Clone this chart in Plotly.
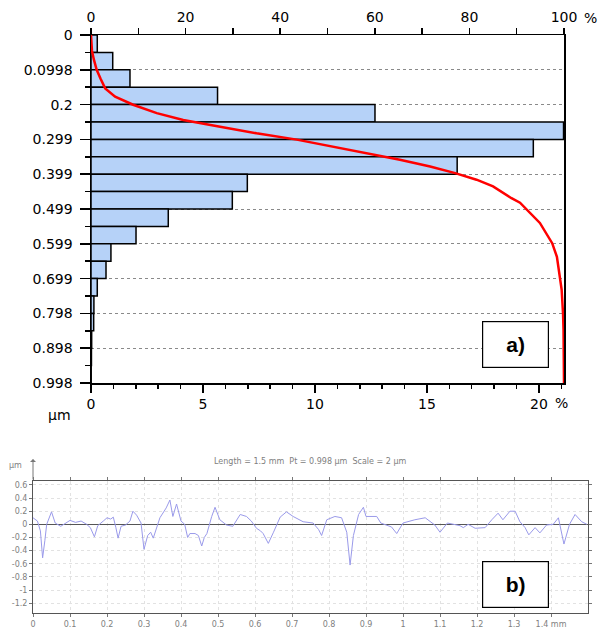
import plotly.graph_objects as go

W, H = 601, 628

# ---------------- data: a) bearing-ratio histogram ----------------
bin_top_um = [0.0, 0.0499, 0.0998, 0.1497, 0.1996, 0.2495, 0.2994, 0.3493, 0.3992, 0.4491,
              0.499, 0.5489, 0.5988, 0.6487, 0.6986, 0.7485, 0.7984, 0.8483, 0.8982, 0.9481]
bin_height_um = 0.0499
hist_pct = [0.28, 0.97, 1.74, 5.65, 12.68, 21.1, 19.75, 16.35, 6.98, 6.31,
            3.45, 2.01, 0.89, 0.67, 0.28, 0.13, 0.12, 0.03, 0.02, 0.01]

# cumulative (Abbott) curve: depth (µm) vs bearing ratio (%)
cum_depth = [0.000, 0.020, 0.045, 0.070, 0.100, 0.125, 0.153, 0.177, 0.200, 0.224,
             0.244, 0.263, 0.282, 0.300, 0.320, 0.339, 0.358, 0.377, 0.396, 0.415,
             0.434, 0.468, 0.481, 0.539, 0.597, 0.636, 0.693, 0.730, 0.800, 0.845, 0.998]
cum_pct = [0.0, 0.1, 0.2, 0.6, 1.2, 2.0, 3.0, 5.1, 8.9, 13.9,
           19.5, 27.3, 35.0, 43.5, 51.2, 58.3, 65.3, 71.7, 77.0, 81.5,
           85.0, 88.9, 90.7, 94.9, 97.5, 98.5, 99.2, 99.5, 99.8, 99.9, 100.0]

depth_tick_vals = [0, 0.0998, 0.1996, 0.2994, 0.3992, 0.499, 0.5988, 0.6986, 0.7984, 0.8982, 0.998]
depth_tick_text = ["0", "0.0998", "0.2", "0.299", "0.399", "0.499", "0.599", "0.699", "0.798", "0.898", "0.998"]
hist_tick_vals = [0, 5, 10, 15, 20]
hist_tick_text = ["0", "5", "10", "15", "20"]
cum_tick_vals = [0, 20, 40, 60, 80, 100]
cum_tick_text = ["0", "20", "40", "60", "80", "100"]

# ---------------- data: b) roughness profile ----------------
prof_x_mm = [0.000, 0.012, 0.020, 0.026, 0.032, 0.037, 0.050, 0.060, 0.075, 0.090,
             0.100, 0.115, 0.130, 0.145, 0.155, 0.166, 0.175, 0.190, 0.200, 0.210,
             0.217, 0.224, 0.230, 0.238, 0.250, 0.262, 0.270, 0.280, 0.292, 0.300,
             0.310, 0.318, 0.325, 0.343, 0.360, 0.370, 0.378, 0.388, 0.400, 0.410,
             0.418, 0.424, 0.438, 0.447, 0.456, 0.463, 0.470, 0.483, 0.492, 0.505,
             0.523, 0.540, 0.560, 0.577, 0.590, 0.604, 0.615, 0.622, 0.636, 0.650,
             0.668, 0.685, 0.703, 0.730, 0.757, 0.772, 0.780, 0.794, 0.816, 0.834,
             0.848, 0.857, 0.866, 0.880, 0.893, 0.900, 0.929, 0.940, 0.969, 0.983,
             1.000, 1.032, 1.060, 1.086, 1.100, 1.120, 1.140, 1.154, 1.163, 1.176,
             1.195, 1.222, 1.240, 1.257, 1.270, 1.289, 1.303, 1.316, 1.330, 1.340,
             1.357, 1.370, 1.388, 1.406, 1.420, 1.435, 1.450, 1.465, 1.483, 1.497]
prof_z_um = [0.10, 0.05, -0.10, -0.51, -0.25, 0.00, 0.19, 0.02, -0.03, 0.02,
             0.06, 0.03, 0.05, 0.00, -0.05, -0.19, -0.02, 0.05, 0.10, 0.08,
             0.11, -0.05, -0.21, -0.03, -0.01, 0.05, 0.20, 0.14, 0.02, -0.38,
             -0.17, -0.12, -0.21, 0.10, 0.25, 0.37, 0.12, 0.31, 0.05, 0.00,
             -0.20, -0.14, -0.14, -0.17, -0.33, -0.20, -0.14, 0.12, 0.26, 0.07,
             -0.01, -0.03, 0.15, 0.12, 0.05, -0.06, -0.10, -0.14, -0.29, -0.12,
             0.11, 0.19, 0.12, 0.04, 0.02, -0.08, -0.17, 0.07, 0.12, 0.10,
             -0.12, -0.62, -0.17, 0.15, 0.26, 0.12, 0.12, 0.02, -0.04, -0.14,
             0.02, 0.07, 0.10, -0.01, -0.12, 0.02, 0.00, -0.02, -0.05, 0.00,
             -0.06, -0.05, 0.07, 0.17, 0.07, 0.20, 0.20, 0.04, -0.05, -0.16,
             -0.05, -0.13, -0.01, 0.00, 0.10, -0.30, 0.00, 0.15, 0.04, 0.00]

prof_y_tick_vals = [0.6, 0.4, 0.2, 0, -0.2, -0.4, -0.6, -0.8, -1.0, -1.2]
prof_y_tick_text = ["0.6", "0.4", "0.2", "0", "-0.2", "-0.4", "-0.6", "-0.8", "-1", "-1.2"]
prof_x_tick_vals = [0, 0.1, 0.2, 0.3, 0.4, 0.5, 0.6, 0.7, 0.8, 0.9, 1.0, 1.1, 1.2, 1.3, 1.4]
prof_x_tick_text = ["0", "0.1", "0.2", "0.3", "0.4", "0.5", "0.6", "0.7", "0.8", "0.9",
                    "1", "1.1", "1.2", "1.3", "1.4 mm"]


def px(x):
    return x / W


def py(y):
    return 1 - y / H


FONT = "DejaVu Sans, Arial, sans-serif"
bin_centers = [t + bin_height_um / 2 for t in bin_top_um]

fig = go.Figure()
fig.add_trace(go.Bar(
    orientation="h", x=hist_pct, y=bin_centers, width=bin_height_um,
    marker=dict(color="#b6d2f8", line=dict(color="black", width=1.5)),
    xaxis="x", yaxis="y", showlegend=False, hoverinfo="skip"))
fig.add_trace(go.Scatter(
    x=cum_pct, y=cum_depth, mode="lines", xaxis="x2", yaxis="y",
    line=dict(color="#ff0000", width=2.5), showlegend=False, hoverinfo="skip"))
fig.add_trace(go.Scatter(
    x=prof_x_mm, y=prof_z_um, mode="lines", xaxis="x3", yaxis="y3",
    line=dict(color="#9a9aea", width=1), showlegend=False, hoverinfo="skip"))

axfont = dict(family=FONT, size=14, color="black")
smallfont = dict(family=FONT, size=8, color="#808080")

fig.update_layout(
    template="none",
    width=W, height=H, margin=dict(l=0, r=0, t=0, b=0, pad=0, autoexpand=False),
    paper_bgcolor="white", plot_bgcolor="white", bargap=0,
    xaxis=dict(domain=[px(91), px(564)], anchor="y", range=[0, 21.12], side="bottom", automargin=False,
               showline=True, linecolor="black", linewidth=1.5, showgrid=False, zeroline=False,
               ticks="outside", ticklen=8, tickwidth=1.5, tickcolor="black",
               tickmode="array", tickvals=hist_tick_vals, ticktext=hist_tick_text, tickfont=axfont,
               minor=dict(ticks="outside", ticklen=4, tickwidth=1.5, tickcolor="black", dtick=1, tick0=0,
                          showgrid=False)),
    xaxis2=dict(overlaying="x", anchor="y", side="top", range=[0, 100], automargin=False,
                showline=True, linecolor="black", linewidth=1.5, showgrid=False, zeroline=False,
                ticks="outside", ticklen=6, tickwidth=1.5, tickcolor="black",
                tickmode="array", tickvals=cum_tick_vals, ticktext=cum_tick_text, tickfont=axfont,
                minor=dict(ticks="outside", ticklen=6, tickwidth=1.5, tickcolor="black", dtick=10, tick0=0,
                           showgrid=False)),
    yaxis=dict(domain=[py(383), py(35)], anchor="x", range=[0.998, 0], automargin=False,
               showline=True, linecolor="black", linewidth=1.5, mirror=True, zeroline=False,
               showgrid=True, gridcolor="#8a8a8a", griddash="dot", gridwidth=1,
               ticks="outside", ticklen=10, tickwidth=1.5, tickcolor="black",
               tickmode="array", tickvals=depth_tick_vals, ticktext=depth_tick_text, tickfont=axfont,
               ticklabelstandoff=4,
               minor=dict(ticks="outside", ticklen=5, tickwidth=1.5, tickcolor="black",
                          dtick=0.0499, tick0=0, showgrid=False)),
    xaxis3=dict(domain=[px(33), px(588)], anchor="y3", range=[0, 1.5], automargin=False,
                showline=True, linecolor="#555555", linewidth=1, mirror="ticks", zeroline=False,
                showgrid=True, gridcolor="#e2e2e2", griddash="dot", gridwidth=1,
                ticks="outside", ticklen=3, tickcolor="#777777",
                tickmode="array", tickvals=prof_x_tick_vals, ticktext=prof_x_tick_text,
                tickfont=smallfont),
    yaxis3=dict(domain=[py(613), py(481)], anchor="x3", range=[-1.35, 0.66], automargin=False,
                showline=True, linecolor="#555555", linewidth=1, mirror="ticks",
                zeroline=True, zerolinecolor="#555555", zerolinewidth=1.2,
                showgrid=True, gridcolor="#e2e2e2", griddash="dot", gridwidth=1,
                ticks="outside", ticklen=3, tickcolor="#777777",
                tickmode="array", tickvals=prof_y_tick_vals, ticktext=prof_y_tick_text,
                tickfont=smallfont),
)

ann = []
# '%' suffixes
ann.append(dict(x=px(590), y=py(18), xref="paper", yref="paper", text="%", showarrow=False,
                font=axfont, xanchor="center", yanchor="middle"))
ann.append(dict(x=px(561), y=py(403), xref="paper", yref="paper", text="%", showarrow=False,
                font=axfont, xanchor="center", yanchor="middle"))
# unit under top chart
ann.append(dict(x=px(73), y=py(415), xref="paper", yref="paper", text="µm", showarrow=False,
                font=axfont, xanchor="right", yanchor="middle"))
# a) box
ann.append(dict(x=px(515.5), y=py(344.5), xref="paper", yref="paper", text="<b>a)</b>", showarrow=False,
                font=dict(family="Liberation Sans Narrow, Arial Narrow, Liberation Sans, sans-serif",
                          size=21, color="black"),
                width=63, height=43, bordercolor="black", borderwidth=1.2, borderpad=1, bgcolor="white",
                xanchor="center", yanchor="middle"))
# b) box
ann.append(dict(x=px(515.5), y=py(584.5), xref="paper", yref="paper", text="<b>b)</b>", showarrow=False,
                font=dict(family="Liberation Sans Narrow, Arial Narrow, Liberation Sans, sans-serif",
                          size=21, color="black"),
                width=63, height=43, bordercolor="black", borderwidth=1.2, borderpad=1, bgcolor="white",
                xanchor="center", yanchor="middle"))
# profile title
ann.append(dict(x=px(310), y=py(461), xref="paper", yref="paper",
                text="Length = 1.5 mm  Pt = 0.998 µm  Scale = 2 µm", showarrow=False,
                font=dict(family=FONT, size=8, color="#808080"), xanchor="center", yanchor="middle"))
# profile unit + arrow
ann.append(dict(x=px(15), y=py(465), xref="paper", yref="paper", text="µm", showarrow=False,
                font=dict(family=FONT, size=8, color="#808080"), xanchor="center", yanchor="middle"))
ann.append(dict(x=px(33), y=py(459), xref="paper", yref="paper", text="", showarrow=True,
                arrowhead=1, arrowsize=1, arrowwidth=1, arrowcolor="#777777",
                axref="pixel", ayref="pixel", ax=0, ay=22))
fig.update_layout(annotations=ann)

fig.write_html("out.html", config={"displayModeBar": False, "staticPlot": True},
               post_script="document.body.style.margin='0';document.body.style.overflow='hidden';")
